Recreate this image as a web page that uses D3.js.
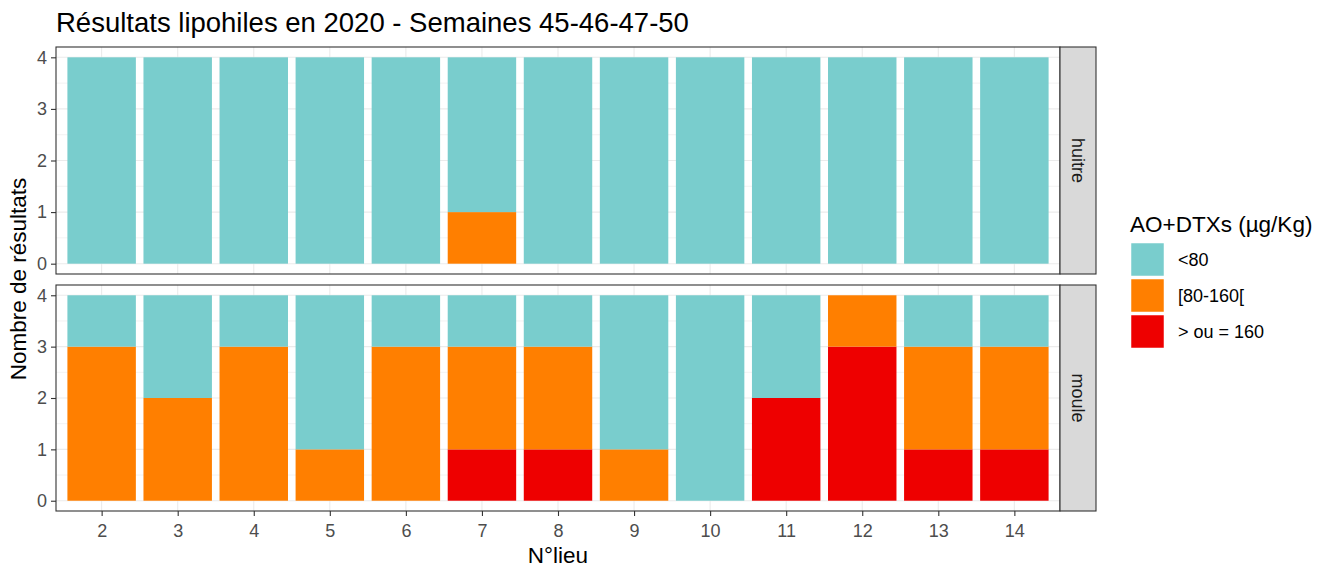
<!DOCTYPE html>
<html>
<head>
<meta charset="utf-8">
<style>
  body { margin: 0; background: #fff; }
  text { font-family: "Liberation Sans", Arial, sans-serif; }
</style>
</head>
<body>
<div id="chart"></div>
<script src="https://d3js.org/d3.v7.min.js"></script>
<script>
// categories
var lieux = ["2","3","4","5","6","7","8","9","10","11","12","13","14"];
var especes = ["huitre", "moule"];
var classes = ["<80", "[80-160[", "> ou = 160"];
var couleurs = ["#79CDCD", "#FF7F00", "#EE0000"];

// number of results per class, one value per lieu
var huitreBas   = [4,4,4,4,4,3,4,4,4,4,4,4,4];
var huitreMoyen = [0,0,0,0,0,1,0,0,0,0,0,0,0];
var huitreHaut  = [0,0,0,0,0,0,0,0,0,0,0,0,0];

var mouleBas    = [1,2,1,3,1,1,1,3,4,2,0,1,1];
var mouleMoyen  = [3,2,3,1,3,2,2,1,0,0,1,2,2];
var mouleHaut   = [0,0,0,0,0,1,1,0,0,2,3,1,1];

var yTicks = [0,1,2,3,4];

var W = 1326, H = 568;
var panelLeft = 56, panelRight = 1060, stripW = 36;
var panels = [{top: 47, bottom: 274}, {top: 285, bottom: 511}];

var series = {
  huitre: [huitreBas, huitreMoyen, huitreHaut],
  moule: [mouleBas, mouleMoyen, mouleHaut]
};

var svg = d3.select("#chart").append("svg")
  .attr("width", W).attr("height", H);

// discrete x: 13 positions, expanded 0.6 on each side
var xPos = d3.scaleLinear()
  .domain([0.4, lieux.length + 0.6])
  .range([panelLeft, panelRight]);

especes.forEach(function(sp, pi) {
  var p = panels[pi];
  var y = d3.scaleLinear().domain([-0.2, 4.2]).range([p.bottom, p.top]);
  var g = svg.append("g");

  // minor grid
  [0.5,1.5,2.5,3.5].forEach(function(v) {
    g.append("line")
      .attr("x1", panelLeft).attr("x2", panelRight)
      .attr("y1", y(v)).attr("y2", y(v))
      .attr("stroke", "#EBEBEB").attr("stroke-width", 0.6);
  });
  // major grid
  yTicks.forEach(function(v) {
    g.append("line")
      .attr("x1", panelLeft).attr("x2", panelRight)
      .attr("y1", y(v)).attr("y2", y(v))
      .attr("stroke", "#EBEBEB").attr("stroke-width", 1.1);
  });
  lieux.forEach(function(l, i) {
    g.append("line")
      .attr("x1", xPos(i + 1)).attr("x2", xPos(i + 1))
      .attr("y1", p.top).attr("y2", p.bottom)
      .attr("stroke", "#EBEBEB").attr("stroke-width", 1.1);
  });

  // stacked bars: highest class at bottom
  var rows = lieux.map(function(l, i) {
    return {lieu: l, i: i, bas: series[sp][0][i], moyen: series[sp][1][i], haut: series[sp][2][i]};
  });
  var stack = d3.stack().keys(["haut", "moyen", "bas"])(rows);
  var colorOf = {bas: couleurs[0], moyen: couleurs[1], haut: couleurs[2]};
  var halfW = (xPos(2) - xPos(1)) * 0.45;

  stack.forEach(function(layer) {
    g.selectAll(null).data(layer.filter(function(d) { return d[1] > d[0]; }))
      .enter().append("rect")
      .attr("x", function(d) { return xPos(d.data.i + 1) - halfW; })
      .attr("width", halfW * 2)
      .attr("y", function(d) { return y(d[1]); })
      .attr("height", function(d) { return y(d[0]) - y(d[1]); })
      .attr("fill", colorOf[layer.key]);
  });

  // panel border
  g.append("rect")
    .attr("x", panelLeft).attr("y", p.top)
    .attr("width", panelRight - panelLeft).attr("height", p.bottom - p.top)
    .attr("fill", "none").attr("stroke", "#333333").attr("stroke-width", 1.1);

  // y axis
  var yAxis = d3.axisLeft(y).tickValues(yTicks).tickFormat(d3.format("d"))
    .tickSize(5).tickPadding(4);
  var ya = svg.append("g").attr("transform", "translate(" + panelLeft + ",0)")
    .call(yAxis)
    .attr("font-size", 18).attr("font-family", "Liberation Sans, Arial, sans-serif");
  ya.select(".domain").remove();
  ya.selectAll(".tick line").attr("stroke", "#333333").attr("stroke-width", 1.1);
  ya.selectAll(".tick text").attr("fill", "#4D4D4D");

  // strip
  svg.append("rect")
    .attr("x", panelRight).attr("y", p.top)
    .attr("width", stripW).attr("height", p.bottom - p.top)
    .attr("fill", "#D9D9D9").attr("stroke", "#333333").attr("stroke-width", 1.1);
  svg.append("text")
    .attr("transform", "translate(" + (panelRight + stripW / 2) + "," + ((p.top + p.bottom) / 2) + ") rotate(90)")
    .attr("text-anchor", "middle").attr("dy", "0.35em")
    .attr("fill", "#1A1A1A").style("font-size", "18px")
    .text(sp);
});

// x axis
var xAxis = d3.axisBottom(xPos).tickValues(d3.range(1, lieux.length + 1))
  .tickFormat(function(d) { return lieux[d - 1]; }).tickSize(5).tickPadding(8);
var xa = svg.append("g").attr("transform", "translate(0," + panels[1].bottom + ")")
  .call(xAxis)
  .attr("font-size", 18).attr("font-family", "Liberation Sans, Arial, sans-serif");
xa.select(".domain").remove();
xa.selectAll(".tick line").attr("stroke", "#333333").attr("stroke-width", 1.1);
xa.selectAll(".tick text").attr("fill", "#4D4D4D");

// titles
svg.append("text").attr("x", 56).attr("y", 32)
  .style("font-size", "27.5px").attr("fill", "#000")
  .text("Résultats lipohiles en 2020 - Semaines 45-46-47-50");

svg.append("text").attr("x", (panelLeft + panelRight) / 2).attr("y", 563)
  .attr("text-anchor", "middle").style("font-size", "22.5px")
  .text("N°lieu");

svg.append("text")
  .attr("transform", "translate(26," + ((panels[0].top + panels[1].bottom) / 2) + ") rotate(-90)")
  .attr("text-anchor", "middle").style("font-size", "22.5px")
  .text("Nombre de résultats");

// legend
var leg = svg.append("g").attr("transform", "translate(1130,0)");
leg.append("text").attr("x", 0).attr("y", 232).style("font-size", "22.5px")
  .text("AO+DTXs (µg/Kg)");
classes.forEach(function(c, i) {
  leg.append("rect").attr("x", 1).attr("y", 243 + i * 36)
    .attr("width", 33).attr("height", 33)
    .attr("fill", couleurs[i]).attr("stroke", "#fff").attr("stroke-width", 0.5);
  leg.append("text").attr("x", 48).attr("y", 243 + i * 36 + 16.5)
    .attr("dy", "0.35em").style("font-size", "18px").attr("fill", "#000")
    .text(c);
});
</script>
</body>
</html>
